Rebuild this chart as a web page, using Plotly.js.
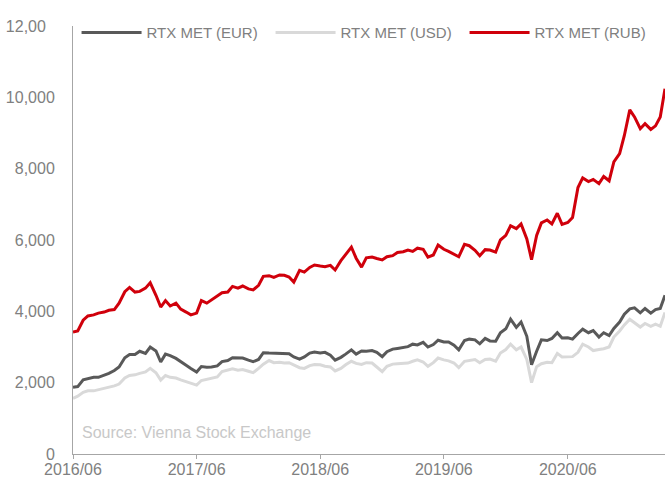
<!DOCTYPE html>
<html>
<head>
<meta charset="utf-8">
<script src="https://cdn.plot.ly/plotly-3.0.1.min.js"></script>
<style>
  html, body { margin: 0; padding: 0; background: #ffffff; }
  #chart { width: 665px; height: 480px; }
</style>
</head>
<body>
<div id="chart"></div>
<script>
// Semi-monthly observation dates
const dates = [
  "2016-06-01","2016-06-15","2016-07-01","2016-07-15","2016-08-01","2016-08-15","2016-09-01","2016-09-15",
  "2016-10-01","2016-10-15","2016-11-01","2016-11-15","2016-12-01","2016-12-15",
  "2017-01-01","2017-01-15","2017-02-01","2017-02-15","2017-03-01","2017-03-15","2017-04-01","2017-04-15",
  "2017-05-01","2017-05-15","2017-06-01","2017-06-15","2017-07-01","2017-07-15","2017-08-01","2017-08-15",
  "2017-09-01","2017-09-15","2017-10-01","2017-10-15","2017-11-01","2017-11-15","2017-12-01","2017-12-15",
  "2018-01-01","2018-01-15","2018-02-01","2018-02-15","2018-03-01","2018-03-15","2018-04-01","2018-04-15",
  "2018-05-01","2018-05-15","2018-06-01","2018-06-15","2018-07-01","2018-07-15","2018-08-01","2018-08-15",
  "2018-09-01","2018-09-15","2018-10-01","2018-10-15","2018-11-01","2018-11-15","2018-12-01","2018-12-15",
  "2019-01-01","2019-01-15","2019-02-01","2019-02-15","2019-03-01","2019-03-15","2019-04-01","2019-04-15",
  "2019-05-01","2019-05-15","2019-06-01","2019-06-15","2019-07-01","2019-07-15","2019-08-01","2019-08-15",
  "2019-09-01","2019-09-15","2019-10-01","2019-10-15","2019-11-01","2019-11-15","2019-12-01","2019-12-15",
  "2020-01-01","2020-01-15","2020-02-01","2020-02-15","2020-03-01","2020-03-15","2020-04-01","2020-04-15",
  "2020-05-01","2020-05-15","2020-06-01","2020-06-15","2020-07-01","2020-07-15","2020-08-01","2020-08-15",
  "2020-09-01","2020-09-15","2020-10-01","2020-10-15","2020-11-01","2020-11-15","2020-12-01","2020-12-15",
  "2021-01-01","2021-01-15","2021-02-01","2021-02-15","2021-03-01","2021-03-15"
];

const rtxEUR = [
  1870,1890,2080,2110,2150,2150,2200,2260,2340,2440,2700,2790,2790,2880,
  2820,3000,2890,2580,2800,2760,2680,2580,2490,2400,2300,2450,2430,2440,2470,2590,
  2620,2700,2700,2690,2630,2590,2650,2840,2830,2830,2820,2820,2810,2720,2660,2720,
  2830,2860,2830,2850,2770,2630,2710,2800,2920,2800,2890,2880,2900,2850,2730,2870,
  2940,2960,2990,3010,3080,3060,3130,3000,3070,3190,3140,3140,3050,2920,3180,3220,
  3200,3090,3240,3170,3160,3400,3510,3780,3550,3700,3300,2500,2880,3200,3180,3240,
  3400,3250,3260,3220,3380,3500,3400,3460,3280,3400,3320,3520,3700,3920,4070,4100,
  3960,4080,3950,4050,4080,4450
];

const rtxUSD = [
  1560,1620,1730,1770,1770,1800,1830,1880,1910,1960,2130,2200,2220,2260,
  2300,2400,2280,2070,2200,2150,2130,2080,2030,1990,1930,2060,2090,2120,2160,2310,
  2350,2390,2350,2370,2320,2280,2400,2520,2620,2560,2570,2550,2560,2500,2420,2400,
  2480,2510,2500,2460,2440,2330,2400,2500,2600,2540,2510,2560,2550,2440,2310,2460,
  2520,2530,2540,2550,2600,2640,2580,2460,2560,2690,2640,2610,2550,2420,2600,2630,
  2650,2560,2650,2660,2600,2830,2930,3080,2920,3000,2650,2000,2450,2530,2570,2560,
  2820,2720,2730,2730,2850,3080,3000,2900,2930,2950,3000,3280,3450,3620,3780,3680,
  3560,3660,3580,3640,3580,3970
];

const rtxRUB = [
  3420,3450,3750,3870,3900,3950,3980,4030,4050,4230,4550,4670,4540,4560,
  4650,4800,4450,4120,4300,4150,4230,4060,3980,3900,3950,4300,4230,4320,4420,4520,
  4540,4700,4650,4710,4630,4600,4730,4980,5000,4950,5020,5010,4960,4820,5150,5100,
  5230,5300,5270,5250,5290,5160,5420,5590,5800,5490,5240,5500,5520,5480,5440,5530,
  5560,5650,5670,5720,5680,5770,5740,5520,5580,5860,5740,5680,5610,5530,5880,5840,
  5710,5560,5730,5720,5660,6000,6130,6400,6320,6450,6030,5450,6130,6480,6560,6450,
  6750,6440,6490,6630,7470,7740,7640,7700,7580,7780,7660,8190,8420,8930,9650,9450,
  9120,9260,9100,9200,9450,10240
];

const seriesNames = ["RTX MET (EUR)", "RTX MET (USD)", "RTX MET (RUB)"];
const yTickVals = [0, 2000, 4000, 6000, 8000, 10000, 12000];
const yTickText = ["0", "2,000", "4,000", "6,000", "8,000", "10,000", "12,00\u00a0\u00a0"];
const xTickVals = ["2016-06-01", "2017-06-01", "2018-06-01", "2019-06-01", "2020-06-01"];
const xTickText = ["2016/06", "2017/06", "2018/06", "2019/06", "2020/06"];
const sourceText = "Source: Vienna Stock Exchange";

const fontFam = "Liberation Sans, Arial, Helvetica, sans-serif";

const traces = [
  { x: dates, y: rtxEUR, name: seriesNames[0], type: "scatter", mode: "lines",
    line: { color: "#595959", width: 3 } },
  { x: dates, y: rtxUSD, name: seriesNames[1], type: "scatter", mode: "lines",
    line: { color: "#d9d9d9", width: 3 } },
  { x: dates, y: rtxRUB, name: seriesNames[2], type: "scatter", mode: "lines",
    line: { color: "#d0000b", width: 3 } }
];

const layout = {
  width: 665, height: 480,
  margin: { l: 73, r: 0, t: 26, b: 26, pad: 0, autoexpand: false },
  paper_bgcolor: "#ffffff", plot_bgcolor: "#ffffff",
  font: { family: fontFam, size: 16, color: "#808080" },
  showlegend: true,
  hovermode: false,
  legend: {
    orientation: "h",
    x: 0.006, xanchor: "left",
    y: 0.984, yanchor: "middle",
    bgcolor: "rgba(255,255,255,1)",
    font: { family: fontFam, size: 15, color: "#808080" },
    itemwidth: 60,
    entrywidth: 119, entrywidthmode: "pixels",
    traceorder: "normal"
  },
  xaxis: {
    type: "date",
    range: ["2016-06-01", "2021-03-15"],
    tickvals: xTickVals, ticktext: xTickText,
    showgrid: false, zeroline: false,
    showline: true, linecolor: "#a6a6a6", linewidth: 1,
    ticks: "outside", ticklen: 4, tickcolor: "#a6a6a6", tickwidth: 1,
    ticklabelstandoff: -3,
    tickfont: { family: fontFam, size: 16, color: "#808080" },
    fixedrange: true
  },
  yaxis: {
    range: [0, 12000],
    tickvals: yTickVals, ticktext: yTickText,
    showgrid: false, zeroline: false,
    showline: true, linecolor: "#a6a6a6", linewidth: 1,
    ticks: "", ticklabelstandoff: 14,
    tickfont: { family: fontFam, size: 16, color: "#808080" },
    fixedrange: true
  },
  annotations: [
    { text: sourceText, xref: "paper", yref: "paper", x: 0.012, y: 0.05,
      xanchor: "left", yanchor: "middle", showarrow: false,
      font: { family: fontFam, size: 16, color: "#c8c8c8" } }
  ]
};

Plotly.newPlot("chart", traces, layout, { staticPlot: true, displayModeBar: false });
</script>
</body>
</html>
